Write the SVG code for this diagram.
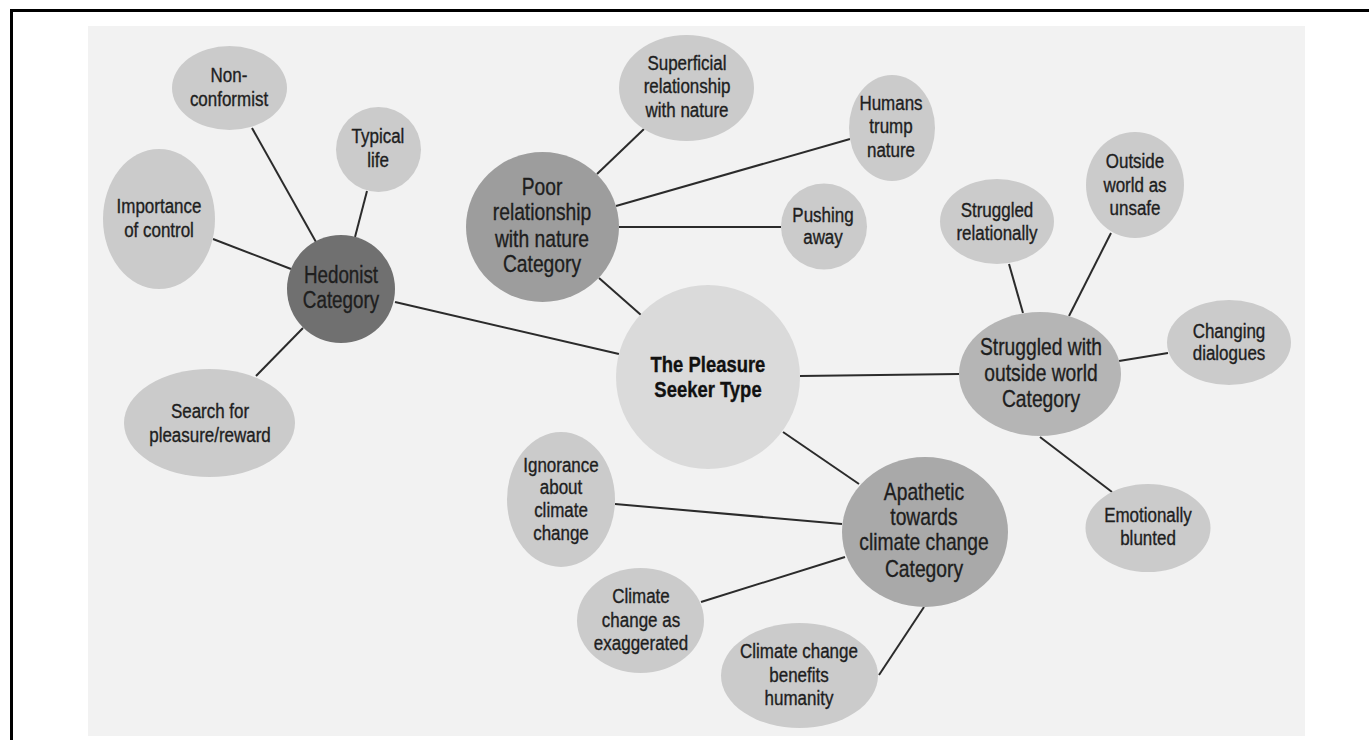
<svg xmlns="http://www.w3.org/2000/svg" width="1369" height="740" viewBox="0 0 1369 740">
<style>
text{font-family:"Liberation Sans","DejaVu Sans",Arial,sans-serif;text-anchor:middle;fill:#1e1e1e;stroke:#1e1e1e;stroke-width:0.35}
.leaf{font-size:19.5px}
.cat{font-size:23.5px}
.core{font-size:22.5px;font-weight:bold;fill:#111;stroke:#111}
.n-leaf{fill:#cbcbcb}
.n-core{fill:#dadada}
.n-hed{fill:#707070}
.n-poor{fill:#9d9d9d}
.n-apa{fill:#a9a9a9}
.n-str{fill:#b5b5b5}
#connectors line{stroke:#2b2b2b;stroke-width:2}
</style>
<rect x="0" y="0" width="1369" height="740" fill="#ffffff"/>
<rect x="88" y="26" width="1217" height="710" fill="#f2f2f2"/>
<path d="M11.5 740 V10.5 H1369" fill="none" stroke="#000" stroke-width="3"/>
<g id="connectors">
<line x1="252" y1="128" x2="316" y2="242"/>
<line x1="367" y1="191" x2="355" y2="237"/>
<line x1="213" y1="239" x2="291" y2="269"/>
<line x1="256" y1="376" x2="303" y2="328"/>
<line x1="395" y1="302" x2="619" y2="354"/>
<line x1="597" y1="174" x2="644" y2="129"/>
<line x1="616" y1="206" x2="850" y2="139"/>
<line x1="619" y1="227" x2="781" y2="227"/>
<line x1="599" y1="278" x2="641" y2="315"/>
<line x1="800" y1="376" x2="959" y2="374"/>
<line x1="783" y1="432" x2="859" y2="484"/>
<line x1="1009" y1="264" x2="1023" y2="313"/>
<line x1="1111" y1="233" x2="1069" y2="316"/>
<line x1="1168" y1="353" x2="1119" y2="361"/>
<line x1="1040" y1="437" x2="1112" y2="492"/>
<line x1="615" y1="504" x2="842" y2="524"/>
<line x1="701" y1="602" x2="845" y2="557"/>
<line x1="879" y1="675" x2="924" y2="607"/>
</g>
<g id="node-nonconformist"><ellipse class="n-leaf" cx="229.5" cy="88" rx="57.5" ry="42"/><g transform="matrix(0.87 0 0 1 29.77 0)"><text class="leaf" x="229" y="82">Non-</text><text class="leaf" x="229" y="106">conformist</text></g></g>
<g id="node-typical-life"><ellipse class="n-leaf" cx="378.5" cy="149.5" rx="42.5" ry="42.5"/><g transform="matrix(0.87 0 0 1 49.14 0)"><text class="leaf" x="378" y="143">Typical</text><text class="leaf" x="378" y="167">life</text></g></g>
<g id="node-importance"><ellipse class="n-leaf" cx="159" cy="219" rx="56" ry="70"/><g transform="matrix(0.87 0 0 1 20.67 0)"><text class="leaf" x="159" y="213">Importance</text><text class="leaf" x="159" y="237">of control</text></g></g>
<g id="node-hedonist"><ellipse class="n-hed" cx="341" cy="289" rx="54" ry="54"/><g transform="matrix(0.8 0 0 1 68.2 0)"><text class="cat" x="341" y="283">Hedonist</text><text class="cat" x="341" y="308">Category</text></g></g>
<g id="node-search"><ellipse class="n-leaf" cx="209.5" cy="423" rx="85.5" ry="54"/><g transform="matrix(0.87 0 0 1 27.3 0)"><text class="leaf" x="210" y="418">Search for</text><text class="leaf" x="210" y="442">pleasure/reward</text></g></g>
<g id="node-superficial"><ellipse class="n-leaf" cx="686.5" cy="88" rx="67.5" ry="53"/><g transform="matrix(0.87 0 0 1 89.31 0)"><text class="leaf" x="687" y="70">Superficial</text><text class="leaf" x="687" y="93">relationship</text><text class="leaf" x="687" y="117">with nature</text></g></g>
<g id="node-humans"><ellipse class="n-leaf" cx="892" cy="128" rx="43" ry="53"/><g transform="matrix(0.87 0 0 1 115.83 0)"><text class="leaf" x="891" y="110">Humans</text><text class="leaf" x="891" y="133">trump</text><text class="leaf" x="891" y="157">nature</text></g></g>
<g id="node-poor"><ellipse class="n-poor" cx="542.5" cy="227" rx="76.5" ry="75"/><g transform="matrix(0.82 0 0 1 97.56 0)"><text class="cat" x="542" y="195">Poor</text><text class="cat" x="542" y="220">relationship</text><text class="cat" x="542" y="247">with nature</text><text class="cat" x="542" y="272">Category</text></g></g>
<g id="node-pushing"><ellipse class="n-leaf" cx="824" cy="226.5" rx="43" ry="43"/><g transform="matrix(0.87 0 0 1 106.99 0)"><text class="leaf" x="823" y="222">Pushing</text><text class="leaf" x="823" y="244">away</text></g></g>
<g id="node-core"><circle class="n-core" cx="708" cy="377" r="92"/><g transform="matrix(0.82 0 0 1 127.44 0)"><text class="core" x="708" y="372">The Pleasure</text><text class="core" x="708" y="397">Seeker Type</text></g></g>
<g id="node-outside-unsafe"><ellipse class="n-leaf" cx="1135" cy="185" rx="49" ry="53"/><g transform="matrix(0.87 0 0 1 147.55 0)"><text class="leaf" x="1135" y="168">Outside</text><text class="leaf" x="1135" y="192">world as</text><text class="leaf" x="1135" y="215">unsafe</text></g></g>
<g id="node-struggled-rel"><ellipse class="n-leaf" cx="997" cy="221.5" rx="57" ry="42.5"/><g transform="matrix(0.87 0 0 1 129.61 0)"><text class="leaf" x="997" y="217">Struggled</text><text class="leaf" x="997" y="240">relationally</text></g></g>
<g id="node-struggled-cat"><ellipse class="n-str" cx="1040" cy="374" rx="81" ry="62"/><g transform="matrix(0.82 0 0 1 187.38 0)"><text class="cat" x="1041" y="355">Struggled with</text><text class="cat" x="1041" y="381">outside world</text><text class="cat" x="1041" y="407">Category</text></g></g>
<g id="node-changing"><ellipse class="n-leaf" cx="1229" cy="342.5" rx="62" ry="42.5"/><g transform="matrix(0.87 0 0 1 159.77 0)"><text class="leaf" x="1229" y="338">Changing</text><text class="leaf" x="1229" y="360">dialogues</text></g></g>
<g id="node-emotionally"><ellipse class="n-leaf" cx="1148" cy="528" rx="62.5" ry="44"/><g transform="matrix(0.87 0 0 1 149.24 0)"><text class="leaf" x="1148" y="522">Emotionally</text><text class="leaf" x="1148" y="545">blunted</text></g></g>
<g id="node-ignorance"><ellipse class="n-leaf" cx="561" cy="499.5" rx="54" ry="67.5"/><g transform="matrix(0.87 0 0 1 72.93 0)"><text class="leaf" x="561" y="472">Ignorance</text><text class="leaf" x="561" y="494">about</text><text class="leaf" x="561" y="517">climate</text><text class="leaf" x="561" y="540">change</text></g></g>
<g id="node-exaggerated"><ellipse class="n-leaf" cx="640.5" cy="620.5" rx="63.5" ry="52.5"/><g transform="matrix(0.87 0 0 1 83.33 0)"><text class="leaf" x="641" y="603">Climate</text><text class="leaf" x="641" y="627">change as</text><text class="leaf" x="641" y="650">exaggerated</text></g></g>
<g id="node-apathetic"><ellipse class="n-apa" cx="925" cy="532" rx="83" ry="75"/><g transform="matrix(0.82 0 0 1 166.32 0)"><text class="cat" x="924" y="500">Apathetic</text><text class="cat" x="924" y="525">towards</text><text class="cat" x="924" y="550">climate change</text><text class="cat" x="924" y="577">Category</text></g></g>
<g id="node-benefits"><ellipse class="n-leaf" cx="799.5" cy="675.5" rx="78.5" ry="52.5"/><g transform="matrix(0.87 0 0 1 103.87 0)"><text class="leaf" x="799" y="658">Climate change</text><text class="leaf" x="799" y="682">benefits</text><text class="leaf" x="799" y="705">humanity</text></g></g>
</svg>
